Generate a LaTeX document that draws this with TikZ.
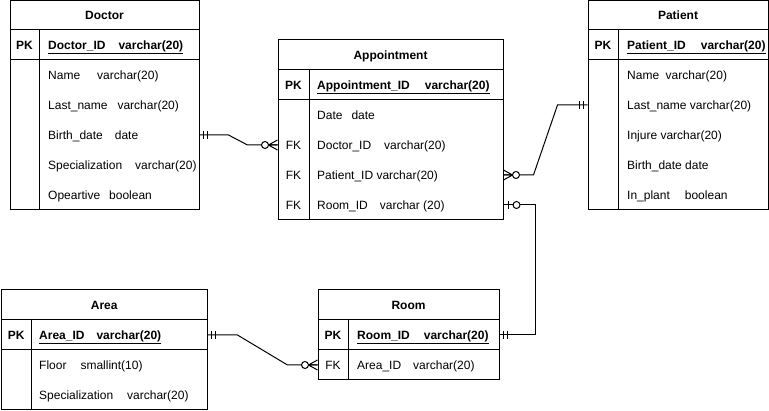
\documentclass[tikz,border=0pt]{standalone}
\usepackage{fontspec}
\setmainfont{Liberation Sans}
\usetikzlibrary{calc}
\newcommand{\fz}{\fontsize{12pt}{14pt}\selectfont}
\tikzset{
  tbl/.style={draw=black, line width=1pt, inner sep=0pt, fill=white},
  div/.style={draw=black, line width=1pt},
  ttl/.style={font=\fz\bfseries, inner sep=0pt, text height=8.6pt, text depth=0pt},
  key/.style={font=\fz\bfseries, inner sep=0pt, text height=8.6pt, text depth=0pt},
  fld/.style={font=\fz, anchor=west, inner sep=0pt, text height=8.6pt, text depth=0pt},
  pkf/.style={font=\fz\bfseries, anchor=west, inner sep=0pt, text height=8.6pt, text depth=0pt},
  conn/.style={draw=black, line width=1pt},
  mk/.style={draw=black, line width=1pt},
  pics/mandone/.style={code={\draw[mk] (4,-4) -- (4,4) (8,-4) -- (8,4);}},
  pics/zeromany/.style={code={\draw[mk] (0,-5) -- (9,0) -- (0,5) (0,0) -- (9,0);
      \draw[mk, fill=white] (12.5,0) circle (3.5pt);}},
  pics/zeroone/.style={code={\draw[mk] (5,-4) -- (5,4);
      \draw[mk, fill=white] (13,0) circle (3.5pt);}},
}
\begin{document}
\begin{tikzpicture}[x=1pt, y=-1pt]
\useasboundingbox (0,0) rectangle (769,411);
\fill[white] (0,0) rectangle (769,411);

% ---------- Doctor ----------
\node[tbl, minimum width=189pt, minimum height=209pt] (doc) at (104.5,105.5) {};
\draw[div] (10,30) -- (199,30) (10,60) -- (199,60) (39,30) -- (39,210);
\node[ttl] (doc-t) at (104.5,15.5) {Doctor};
\node[key] (doc-pkl) at (24.5,45) {PK};
\node[pkf] (doc-pk) at (48,45) {\underline{Doctor\_ID\hspace{13pt}varchar(20)}};
\node[fld] (doc-name) at (48,75) {Name\hspace{17pt}varchar(20)};
\node[fld] (doc-last) at (48,105) {Last\_name\hspace{10pt}varchar(20)};
\node[fld] (doc-birth) at (48,135) {Birth\_date\hspace{12pt}date};
\node[fld] (doc-spec) at (48,165) {Specialization\hspace{13pt}varchar(20)};
\node[fld] (doc-op) at (48,195) {Opeartive\hspace{9pt}boolean};

% ---------- Appointment ----------
\node[tbl, minimum width=225pt, minimum height=180pt] (apt) at (390.5,130) {};
\draw[div] (278,70) -- (503,70) (278,100) -- (503,100) (309,70) -- (309,220);
\node[ttl] (apt-t) at (390.5,55) {Appointment};
\node[key] (apt-pkl) at (293.5,85) {PK};
\node[pkf] (apt-pk) at (317,85) {\underline{Appointment\_ID\hspace{15pt}varchar(20)}};
\node[fld] (apt-date) at (317,115) {Date\hspace{9pt}date};
\node[key, font=\fz] (apt-fk1) at (293.5,145) {FK};
\node[fld] (apt-doc) at (317,145) {Doctor\_ID\hspace{13pt}varchar(20)};
\node[key, font=\fz] (apt-fk2) at (293.5,175) {FK};
\node[fld] (apt-pat) at (317,175) {Patient\_ID varchar(20)};
\node[key, font=\fz] (apt-fk3) at (293.5,205) {FK};
\node[fld] (apt-room) at (317,205) {Room\_ID\hspace{12pt}varchar (20)};

% ---------- Patient ----------
\node[tbl, minimum width=180pt, minimum height=209pt] (pat) at (678,105.5) {};
\draw[div] (588,30) -- (768,30) (588,60) -- (768,60) (618,30) -- (618,210);
\node[ttl] (pat-t) at (678,15.5) {Patient};
\node[key] (pat-pkl) at (603,45) {PK};
\node[pkf] (pat-pk) at (627,45) {\underline{Patient\_ID\hspace{15pt}varchar(20)}};
\node[fld] (pat-name) at (627,75) {Name\hspace{6.5pt}varchar(20)};
\node[fld] (pat-last) at (627,105) {Last\_name varchar(20)};
\node[fld] (pat-inj) at (627,135) {Injure varchar(20)};
\node[fld] (pat-birth) at (627,165) {Birth\_date date};
\node[fld] (pat-in) at (627,195) {In\_plant\hspace{15pt}boolean};

% ---------- Area ----------
\node[tbl, minimum width=205.5pt, minimum height=120pt] (area) at (104.25,350) {};
\draw[div] (1.5,320) -- (207,320) (1.5,350) -- (207,350) (31,320) -- (31,410);
\node[ttl] (area-t) at (104.25,305) {Area};
\node[key] (area-pkl) at (16.25,335) {PK};
\node[pkf] (area-pk) at (39,335) {\underline{Area\_ID\hspace{12pt}varchar(20)}};
\node[fld] (area-floor) at (39,365) {Floor\hspace{14pt}smallint(10)};
\node[fld] (area-spec) at (39,395) {Specialization\hspace{14pt}varchar(20)};

% ---------- Room ----------
\node[tbl, minimum width=181pt, minimum height=90pt] (room) at (408.5,335) {};
\draw[div] (318,320) -- (499,320) (318,350) -- (499,350) (348,320) -- (348,380);
\node[ttl] (room-t) at (408.5,305) {Room};
\node[key] (room-pkl) at (333,335) {PK};
\node[pkf] (room-pk) at (357,335) {\underline{Room\_ID\hspace{14pt}varchar(20)}};
\node[key, font=\fz] (room-fk) at (333,365) {FK};
\node[fld] (room-area) at (357,365) {Area\_ID\hspace{12pt}varchar(20)};

% ---------- Connectors ----------
% Doctor -- Appointment
\draw[conn] (doc.east |- doc-birth) -- ++(29,0) -- ($(apt.west |- apt-doc)+(-30,0)$) -- (apt.west |- apt-doc);
\pic at (doc.east |- doc-birth) {mandone};
\pic[rotate=180] at (apt.west |- apt-doc) {zeromany};

% Patient -- Appointment
\draw[conn] (pat.west |- pat-last) -- ++(-30,0) -- ($(apt.east |- apt-pat)+(30,0)$) -- (apt.east |- apt-pat);
\pic[rotate=180] at (pat.west |- pat-last) {mandone};
\pic at (apt.east |- apt-pat) {zeromany};

% Appointment -- Room
\draw[conn] (apt.east |- apt-room) -- ++(32,0) |- (room.east |- room-pk);
\pic at (apt.east |- apt-room) {zeroone};
\pic at (room.east |- room-pk) {mandone};

% Area -- Room
\draw[conn] (area.east |- area-pk) -- ++(30,0) -- ($(room.west |- room-area)+(-30,0)$) -- (room.west |- room-area);
\pic at (area.east |- area-pk) {mandone};
\pic[rotate=180] at (room.west |- room-area) {zeromany};
\end{tikzpicture}
\end{document}
